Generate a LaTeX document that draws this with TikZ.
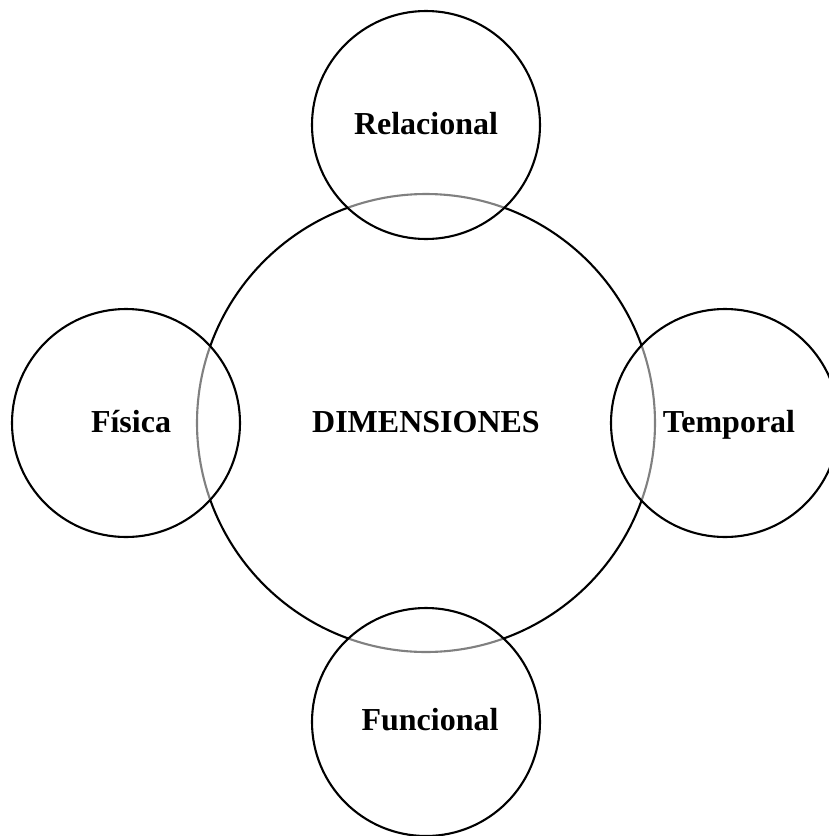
\documentclass[tikz,border=0pt]{standalone}
\usepackage{fontspec}
\setmainfont{Liberation Serif}
\begin{document}
\begin{tikzpicture}[x=1pt,y=-1pt,
  ring/.style={circle,draw=black,line width=2.1pt,inner sep=0pt},
  bigring/.style={ring,minimum size=458pt},
  smallring/.style={ring,minimum size=228pt,fill=white,fill opacity=0.5},
  lbl/.style={font=\fontsize{32}{36}\selectfont\bfseries,inner sep=0pt,text opacity=1}]
\useasboundingbox (0,0) rectangle (829,836);
\clip (0,0) rectangle (829,836);
\node[bigring] (dim) at (426,423) {};
\node[smallring] (rel) at (426,125) {};
\node[smallring] (fun) at (426,722) {};
\node[smallring] (fis) at (126,423) {};
\node[smallring] (tem) at (725,423) {};
\node[lbl,anchor=base] (tdim) at (426,432) {DIMENSIONES};
\node[lbl,anchor=base] (trel) at (426,134) {Relacional};
\node[lbl,anchor=base] (tfun) at (430,730) {Funcional};
\node[lbl,anchor=base] (tfis) at (131,432) {Física};
\node[lbl,anchor=base] (ttem) at (729,432) {Temporal};
\end{tikzpicture}
\end{document}
